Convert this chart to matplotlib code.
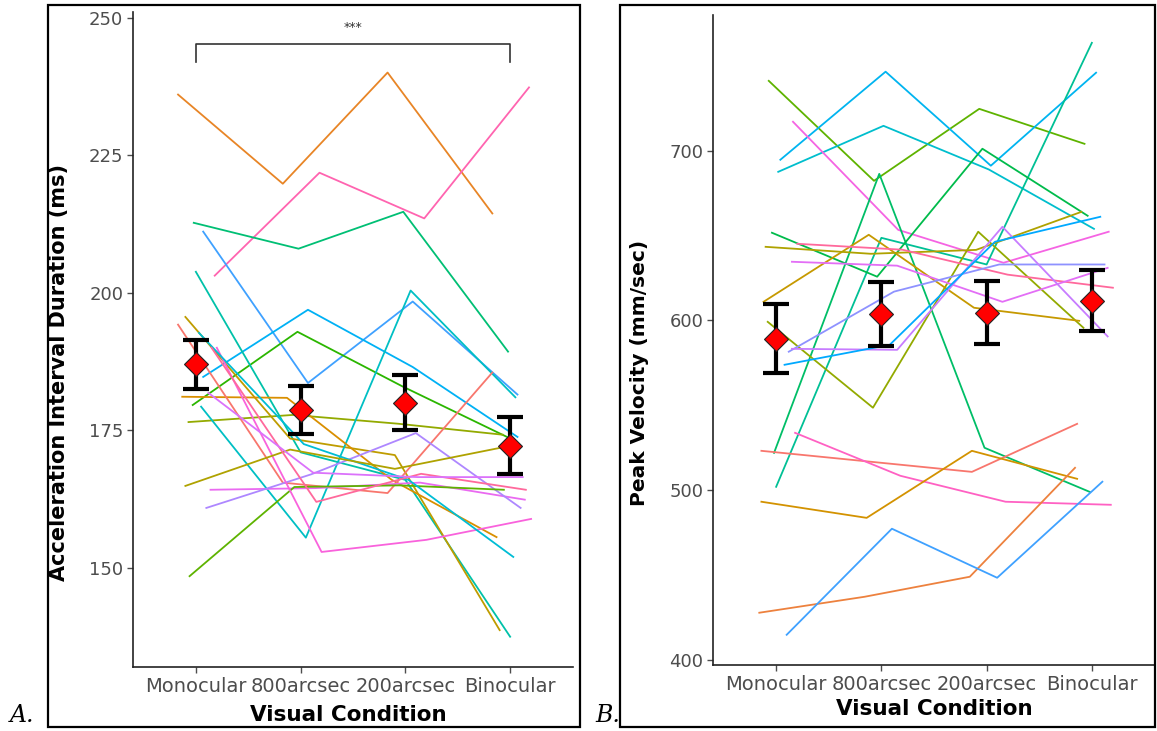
import numpy as np
import matplotlib.pyplot as plt
from matplotlib.patches import Rectangle

conditions = ["Monocular", "800arcsec", "200arcsec", "Binocular"]

# acceleration interval duration (ms), one row per subject
accel_ms = [
    [236.0, 219.8, 240.0, 214.4],
    [203.1, 221.8, 213.5, 237.3],
    [212.7, 208.0, 214.7, 189.3],
    [211.1, 183.6, 198.4, 181.5],
    [184.7, 196.9, 186.5, 173.8],
    [179.6, 192.9, 183.0, 173.8],
    [176.5, 177.8, 176.2, 174.2],
    [203.8, 171.0, 166.0, 137.5],
    [195.6, 173.5, 170.5, 138.7],
    [179.3, 155.5, 200.4, 181.0],
    [181.1, 180.9, 166.0, 155.6],
    [194.2, 165.5, 163.6, 185.5],
    [164.2, 164.5, 165.5, 162.4],
    [160.9, 167.0, 174.5, 160.9],
    [148.5, 164.7, 165.0, 164.2],
    [190.0, 152.9, 155.1, 158.9],
    [192.7, 172.5, 166.0, 152.0],
    [164.9, 171.5, 168.0, 171.8],
    [190.0, 162.0, 167.1, 164.2],
    [181.8, 167.3, 166.5, 166.5],
]
accel_mean = [187.0, 178.7, 180.0, 172.2]
accel_se = [4.5, 4.4, 5.0, 5.2]

# peak velocity (mm/sec), one row per subject
peak_vel = [
    [741.2, 682.3, 724.7, 704.1],
    [694.7, 746.6, 691.2, 746.0],
    [687.6, 714.7, 689.0, 654.0],
    [717.1, 653.4, 634.0, 652.3],
    [522.0, 686.4, 525.0, 499.0],
    [502.0, 648.7, 633.0, 763.6],
    [651.7, 625.8, 701.2, 661.7],
    [599.2, 548.6, 652.3, 595.7],
    [611.0, 650.5, 607.5, 599.8],
    [643.4, 639.3, 641.6, 664.0],
    [645.2, 641.7, 627.0, 619.3],
    [634.6, 632.3, 611.0, 631.0],
    [581.6, 617.0, 633.0, 633.0],
    [583.3, 582.7, 655.2, 590.6],
    [573.9, 585.7, 646.4, 661.1],
    [523.2, 517.0, 510.8, 539.1],
    [533.8, 508.5, 493.2, 491.4],
    [493.2, 483.7, 523.2, 506.7],
    [427.8, 437.2, 449.0, 513.2],
    [414.8, 477.3, 448.4, 505.0],
]
vel_mean = [589.2, 604.0, 604.5, 611.6]
vel_se = [20.3, 18.9, 18.5, 18.0]

# per-subject horizontal dodge and line hue
dodge_a = [-0.17, 0.18, -0.02, 0.07, 0.07, -0.03, -0.07, 0.0, -0.10, 0.05,
           -0.13, -0.17, 0.14, 0.10, -0.06, 0.20, 0.03, -0.10, 0.15, 0.12]
hue_a = [35, 345, 155, 250, 230, 125, 95, 180, 70, 195,
         50, 15, 305, 275, 115, 320, 205, 80, 355, 295]
dodge_b = [-0.07, 0.04, 0.02, 0.16, -0.02, 0.0, -0.04, -0.08, -0.12, -0.10,
           0.20, 0.15, 0.12, 0.15, 0.08, -0.14, 0.18, -0.14, -0.16, 0.10]
hue_b = [115, 225, 200, 315, 150, 170, 140, 95, 65, 80,
         355, 300, 265, 285, 240, 15, 335, 55, 30, 250]


def hcl(h, c=100, l=65):
    # polar Luv -> sRGB, same scheme as ggplot's default hue palette
    h = np.radians(h)
    u, v = c * np.cos(h), c * np.sin(h)
    Y = ((l + 16) / 116) ** 3
    un, vn = 0.19784, 0.46834
    up = u / (13 * l) + un
    vp = v / (13 * l) + vn
    X = Y * 9 * up / (4 * vp)
    Z = Y * (12 - 3 * up - 20 * vp) / (4 * vp)
    M = np.array([[3.2406, -1.5372, -0.4986],
                  [-0.9689, 1.8758, 0.0415],
                  [0.0557, -0.2040, 1.0570]])
    rgb = M @ np.array([X, Y, Z])
    rgb = np.clip(rgb, 0, 1)
    rgb = np.where(rgb <= 0.0031308, 12.92 * rgb, 1.055 * rgb ** (1 / 2.4) - 0.055)
    return np.clip(rgb, 0, 1)


def draw_panel(ax, data, dodge, hues, means, se, ylim, yticks, ylabel, ylabel_size):
    x = np.arange(1, len(conditions) + 1)
    for row, dx, h in zip(data, dodge, hues):
        ax.plot(x + dx, row, color=hcl(h), lw=1.3, zorder=2)
    ax.errorbar(x, means, yerr=se, fmt='none', ecolor='black', elinewidth=3,
                capsize=9.5, capthick=3, zorder=3)
    ax.plot(x, means, 'D', color='red', markersize=12.5, markeredgecolor='#222222',
            markeredgewidth=0.8, zorder=4)
    ax.set_xlim(0.4, 4.6)
    ax.set_ylim(*ylim)
    ax.set_xticks(x)
    ax.set_xticklabels(conditions)
    ax.set_yticks(yticks)
    ax.tick_params(colors='#4D4D4D', labelsize=13, length=4, width=1, pad=3)
    ax.tick_params(axis='x', labelsize=14)
    for s in ['top', 'right']:
        ax.spines[s].set_visible(False)
    for s in ['left', 'bottom']:
        ax.spines[s].set_color('#222222')
        ax.spines[s].set_linewidth(1.2)
    ax.set_xlabel("Visual Condition", fontsize=15.5, fontweight='bold')
    ax.set_ylabel(ylabel, fontsize=ylabel_size, fontweight='bold')


W, H = 1157, 731
fig = plt.figure(figsize=(W / 100, H / 100), dpi=100)
axA = fig.add_axes([133 / W, 1 - 667 / H, 440 / W, 655 / H])
axB = fig.add_axes([713 / W, 1 - 665 / H, 442 / W, 650 / H])

draw_panel(axA, accel_ms, dodge_a, hue_a, accel_mean, accel_se,
           (132, 251), [150, 175, 200, 225, 250],
           "Acceleration Interval Duration (ms)", 15)
draw_panel(axB, peak_vel, dodge_b, hue_b, vel_mean, vel_se,
           (397, 780), [400, 500, 600, 700], "Peak Velocity (mm/sec)", 14.5)

axA.xaxis.set_label_coords(0.49, -0.058)
axA.yaxis.set_label_coords(-0.145, 0.45)
axB.xaxis.set_label_coords(0.50, -0.052)
axB.yaxis.set_label_coords(-0.145, 0.45)

# significance bracket Monocular vs Binocular
axA.plot([1, 1, 4, 4], [242.0, 245.1, 245.1, 242.0], color='#333333', lw=1.2,
         clip_on=False)
axA.text(2.5, 247.0, "***", ha='center', va='bottom', fontsize=9, color='#333333')

# panel frames and letters
for x0, x1 in [(48, 580), (620, 1155)]:
    fig.add_artist(Rectangle((x0 / W, 1 - 727 / H), (x1 - x0) / W, 722 / H,
                             transform=fig.transFigure, fill=False,
                             ec='black', lw=1.6))
fig.text(10 / W, 1 - 716 / H, "A.", fontsize=17, family='DejaVu Serif',
         style='italic', va='center')
fig.text(595 / W, 1 - 716 / H, "B.", fontsize=17, family='DejaVu Serif',
         style='italic', va='center')

fig.savefig("out.png", dpi=100)
